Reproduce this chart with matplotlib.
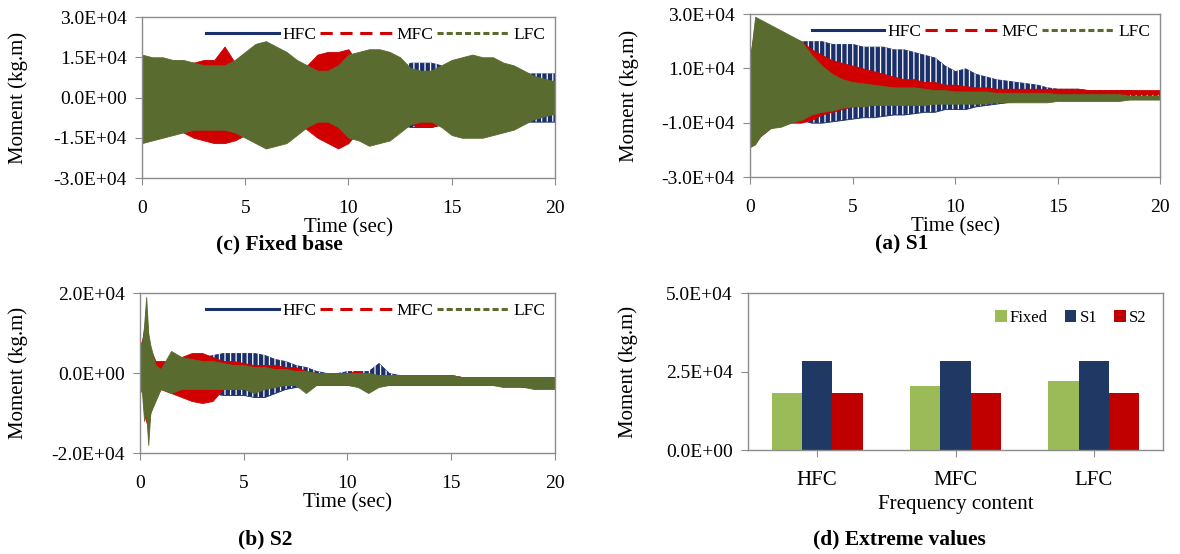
import numpy as np
import matplotlib
matplotlib.use("Agg")
import matplotlib.pyplot as plt
from matplotlib.lines import Line2D
from matplotlib.ticker import FuncFormatter

# =============================================================
# Daten (Momente in 1e3 kg.m, Zeit in s)
# =============================================================
# Einhuellende (oben / unten) der Zeitverlaeufe
t_fixed = np.arange(0, 20.01, 0.5)
fixed_hfc_up = [10, 10, 10, 10, 10, 11, 11, 11, 11, 10, 10, 10, 10, 10, 10, 10, 10, 11, 11, 11, 11,
                10, 10, 10, 10, 11, 13, 13, 13, 12, 10, 9, 9, 9, 9, 9, 9, 9, 9, 9, 9]
fixed_hfc_lo = [-10, -10, -10, -10, -10, -11, -11, -11, -11, -10, -10, -10, -10, -10, -10, -10, -10,
                -11, -11, -11, -11, -10, -10, -10, -10, -10, -11, -11, -11, -10, -9, -9, -9, -9, -9,
                -9, -9, -9, -9, -9, -9]
fixed_mfc_up = [13, 13, 12, 12, 13, 13, 14, 14, 19, 13, 12, 10, 10, 9, 9, 9, 12, 16, 17, 17, 18,
                12, 9, 8, 8, 8, 9, 9, 9, 8, 8, 8, 8, 8, 8, 8, 7, 7, 6, 6, 6]
fixed_mfc_lo = [-13, -13, -12, -12, -13, -15, -16, -17, -17, -16, -14, -10, -10, -9, -9, -9, -12,
                -15, -17, -19, -17, -12, -10, -9, -9, -9, -10, -11, -11, -10, -9, -9, -8, -8, -8,
                -8, -7, -6, -6, -6, -6]
fixed_lfc_up = [16, 15, 15, 14, 14, 13, 12, 12, 12, 14, 17, 20, 21, 19, 17, 14, 12, 10, 10, 12, 16,
                17, 18, 18, 17, 15, 11, 10, 10, 12, 14, 15, 16, 15, 15, 13, 12, 10, 8, 7, 6]
fixed_lfc_lo = [-17, -16, -15, -14, -13, -12, -12, -12, -12, -13, -15, -17, -19, -18, -17, -14,
                -11, -9, -9, -11, -15, -16, -18, -17, -16, -13, -10, -9, -9, -11, -14, -15, -15,
                -15, -14, -13, -12, -10, -8, -7, -6]

t_s1 = np.concatenate([[0, 0.25], np.arange(0.5, 20.01, 0.5)])
s1_hfc_up = [10, 15, 15, 14, 15, 17, 20, 20, 20, 19, 19, 19, 18, 18, 18, 17, 17, 16, 15, 14, 11,
             9, 10, 8, 7, 6, 5.5, 5, 4.5, 4, 3, 2.5, 2.5, 2.5, 2, 2, 2, 2, 2, 1.5, 1.5, 1.5]
s1_hfc_lo = [-10, -12, -12, -10, -9, -9, -9, -10, -10, -9.5, -9, -8.5, -8, -8, -7.5, -7, -7,
             -6.5, -6, -6, -5, -5, -5, -4, -3.5, -3, -2.5, -2, -2, -1.5, -1.5, -1, -1, -1, -1,
             -0.5, -0.5, -0.5, -0.5, -0.5, -0.5, -0.5]
s1_mfc_up = [14, 26, 25, 23, 22, 21, 20, 17, 15, 13, 12, 11, 10, 9, 8, 7, 6, 6, 5, 5, 4, 4, 3.5,
             3, 3, 2.5, 2.5, 2.5, 2.5, 2.5, 2.5, 2.5, 2.5, 2.5, 2, 2, 2, 2, 2, 2, 2, 2]
s1_mfc_lo = [-18, -17, -15, -12, -11, -10, -10, -9, -7, -6, -5, -4, -3.5, -3, -2.5, -2, -2, -1.5,
             -1.5, -1, -1, -0.5, -0.5, 0, 0, 0.5, 0.5, 0.5, 0.5, 0.5, 0.5, 0.5, 0.5, 0.5, 0.5,
             0.5, 0.5, 0.5, 0.5, 0.5, 0.5, 0.5]
s1_lfc_up = [13, 29, 28, 26, 24, 22, 20, 15, 11, 8, 6, 5, 4.5, 4, 3.5, 3, 3, 3, 2.5, 2, 2, 1.5,
             1.5, 1.5, 1.5, 1, 1, 1, 1, 1, 1, 0.5, 0.5, 0.5, 0.5, 0.5, 0.5, 0.5, 0, 0, 0, 0]
s1_lfc_lo = [-19, -18, -15, -12, -11.5, -10, -9, -7, -6, -5.5, -4.5, -4, -4, -3.5, -3.5, -3.5,
             -3.5, -3.5, -3.5, -3, -3, -3, -3, -3, -3, -2.5, -2.5, -2.5, -2.5, -2.5, -2.5, -2,
             -2, -2, -2, -2, -2, -2, -1.5, -1.5, -1.5, -1.5]

t_s2 = np.concatenate([[0, 0.1, 0.2, 0.3, 0.4, 0.5, 0.75], np.arange(1.0, 20.01, 0.5)])
s2_hfc_up = [6, 8, 11, 12, 6, 4, 2, 1, 2, 3, 3.5, 4, 4.5, 5, 5, 5, 5, 4.5, 3.5, 3, 2, 1.5, 0.5,
             0, 0, 0.5, 0.5, 0.5, 2.5, 0, -0.5, -0.5, -0.5, -0.5, -0.5, -0.5, -1, -1, -1, -1,
             -1, -1, -1, -1, -1, -1]
s2_hfc_lo = [-2, -4, -8, -10, -8, -5, -3, -3, -3, -3.5, -4, -4.5, -5, -5.5, -5.5, -5.5, -6, -6,
             -5, -4, -3.5, -3, -3, -3, -3, -3, -3, -3, -3, -3, -3, -3, -3, -3, -3, -3, -3, -3,
             -3, -3, -3, -3, -3, -3, -3, -3]
s2_mfc_up = [7, 8, 10, 16, 8, 6, 3, 3, 3, 4, 5, 5, 4, 3, 3, 2.5, 2, 2, 2, 1.5, 1.5, 0.5, 0, 0,
             0, 0, 0.5, -0.5, -0.5, -0.5, -0.5, -0.5, -0.5, -0.5, -0.5, -0.5, -1, -1, -1, -1,
             -1, -1, -1, -1, -1, -1]
s2_mfc_lo = [-3, -3, -10, -12, -14, -10, -6, -4, -5, -6, -7, -7.5, -7, -4, -4, -3.5, -3.5, -3.5,
             -3, -3, -3, -3, -3, -3, -3, -3, -3, -3, -3, -3, -3, -3, -3, -3, -3, -3, -3, -3,
             -3, -3, -3, -3, -3.5, -3.5, -3.5, -3.5]
s2_lfc_up = [8, 7, 12, 19, 10, 7, 2, 1, 5.5, 4, 3.5, 3, 3, 2.5, 2, 2, 1.5, 1.5, 1, 1, 0.5, 0.5,
             0, 0, 0, 0, 0, 0, -0.5, -0.5, -0.5, -0.5, -0.5, -0.5, -0.5, -0.5, -1, -1, -1, -1,
             -1, -1, -1, -1, -1, -1]
s2_lfc_lo = [-4, -5, -12, -10, -18, -10, -7, -4, -5, -4, -4, -4, -4, -4, -4, -4, -5, -4, -3.5,
             -3, -3, -5, -3, -3, -3, -3, -3.5, -5, -3.5, -3, -3, -3, -3, -3, -3, -3, -3, -3,
             -3, -3, -3.5, -3.5, -3.5, -4, -4, -4]

# Extremwerte (Balken)
categories = ["HFC", "MFC", "LFC"]
extreme_fixed = [18.0, 20.3, 22.0]
extreme_s1 = [28.5, 28.5, 28.5]
extreme_s2 = [18.0, 18.0, 18.0]

SCALE = 1e3
C_HFC = "#1B2F6B"
C_MFC = "#D00000"
C_LFC = "#5A6B2F"
C_BAR = ["#9BBB59", "#1F3864", "#C00000"]
GRAY = "#8C8C8C"

plt.rcParams["font.family"] = ["Liberation Serif", "DejaVu Serif"]
plt.rcParams["hatch.linewidth"] = 0.9

fig = plt.figure(figsize=(11.8, 5.54), dpi=100)

ax_c = fig.add_axes([0.1203, 0.6787, 0.350, 0.2906])
ax_a = fig.add_axes([0.6356, 0.6805, 0.3475, 0.2942])
ax_b = fig.add_axes([0.1186, 0.1823, 0.3517, 0.2888])
ax_d = fig.add_axes([0.6339, 0.1877, 0.3517, 0.2834])

sci = FuncFormatter(lambda v, p: f"{v:.1E}")


def style_axes(ax):
    for sp in ax.spines.values():
        sp.set_color(GRAY)
        sp.set_linewidth(1.0)
    ax.tick_params(direction="out", length=5, color=GRAY, labelsize=14, pad=6)
    ax.tick_params(axis="x", pad=11)
    ax.yaxis.set_major_formatter(sci)


def time_history(ax, t, series, ylim, yticks, ylab_x):
    # series: (label, up, lo, color, linestyle)
    for label, up, lo, col, ls in series:
        lo_v = np.array(lo) * SCALE
        up_v = np.array(up) * SCALE
        ax.fill_between(t, lo_v, up_v, color=col, lw=0.6, edgecolor=col)
        if label == "HFC":
            # feine Luecken zwischen den Schwingungen andeuten
            ax.fill_between(t, lo_v, up_v, facecolor="none", edgecolor="white",
                            hatch="|||", lw=0)
    ax.set_xlim(0, 20)
    ax.set_ylim(*ylim)
    ax.set_xticks([0, 5, 10, 15, 20])
    ax.set_yticks(yticks)
    style_axes(ax)
    ax.set_xlabel("Time (sec)", fontsize=15, labelpad=1)
    ax.set_ylabel("Moment (kg.m)", fontsize=15)
    ax.yaxis.set_label_coords(ylab_x, 0.5)
    handles = [Line2D([], [], color=col, lw=2.2, linestyle=ls) for _, _, _, col, ls in series]
    ax.legend(handles, [s[0] for s in series], loc="upper right", ncol=3, frameon=False,
              fontsize=12.5, handlelength=4.2, handletextpad=0.2, columnspacing=0.2,
              borderaxespad=0.15)


def make_series(hu, hl, mu, ml, lu, ll):
    return [("HFC", hu, hl, C_HFC, "-"),
            ("MFC", mu, ml, C_MFC, (0, (4, 2.5))),
            ("LFC", lu, ll, C_LFC, (0, (2, 1)))]


time_history(ax_c, t_fixed,
             make_series(fixed_hfc_up, fixed_hfc_lo, fixed_mfc_up, fixed_mfc_lo,
                         fixed_lfc_up, fixed_lfc_lo),
             (-3e4, 3e4), [-3e4, -1.5e4, 0, 1.5e4, 3e4], -0.275)
time_history(ax_a, t_s1,
             make_series(s1_hfc_up, s1_hfc_lo, s1_mfc_up, s1_mfc_lo, s1_lfc_up, s1_lfc_lo),
             (-3e4, 3e4), [-3e4, -1e4, 1e4, 3e4], -0.27)
time_history(ax_b, t_s2,
             make_series(s2_hfc_up, s2_hfc_lo, s2_mfc_up, s2_mfc_lo, s2_lfc_up, s2_lfc_lo),
             (-2e4, 2e4), [-2e4, 0, 2e4], -0.27)

# Balkendiagramm der Extremwerte
x = np.arange(len(categories))
w = 0.22
for i, (vals, lab) in enumerate([(extreme_fixed, "Fixed"), (extreme_s1, "S1"), (extreme_s2, "S2")]):
    ax_d.bar(x + (i - 1) * w, np.array(vals) * SCALE, width=w, color=C_BAR[i], label=lab)
ax_d.set_xlim(-0.5, 2.5)
ax_d.set_ylim(0, 5e4)
ax_d.set_yticks([0, 2.5e4, 5e4])
ax_d.set_xticks(x)
ax_d.set_xticklabels(categories)
style_axes(ax_d)
ax_d.tick_params(axis="x", labelsize=15, pad=10)
ax_d.set_xlabel("Frequency content", fontsize=15, labelpad=4)
ax_d.set_ylabel("Moment (kg.m)", fontsize=15)
ax_d.yaxis.set_label_coords(-0.265, 0.5)
ax_d.legend(loc="upper right", ncol=3, frameon=False, fontsize=12, handlelength=0.7,
            handleheight=0.7, handletextpad=0.2, columnspacing=1.0, borderaxespad=0.6)

# Bildunterschriften
cap = dict(fontsize=15.5, fontweight="bold", ha="center", va="center")
fig.text(0.237, 0.558, "(c) Fixed base", **cap)
fig.text(0.764, 0.558, "(a) S1", **cap)
fig.text(0.225, 0.026, "(b) S2", **cap)
fig.text(0.762, 0.026, "(d) Extreme values", **cap)

fig.savefig("out.png", dpi=100)
